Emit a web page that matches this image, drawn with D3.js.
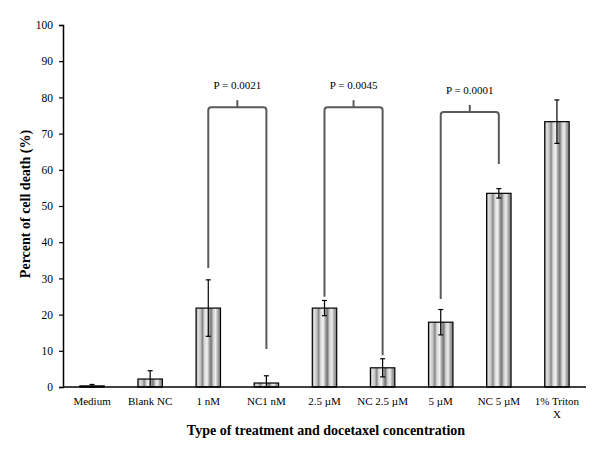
<!DOCTYPE html>
<html><head><meta charset="utf-8">
<script src="https://cdn.jsdelivr.net/npm/d3@7"></script>
<style>body{margin:0;background:#fff}svg{display:block}text{font-family:"Liberation Serif","Times New Roman",serif}</style>
</head><body><svg id="c" width="600" height="450"></svg>
<script>
const categories = ["Medium","Blank NC","1 nM","NC1 nM","2.5 \u00b5M","NC 2.5 \u00b5M","5 \u00b5M","NC 5 \u00b5M","1% Triton X"];
const values = [0.3, 2.2, 21.8, 1.1, 21.8, 5.3, 17.9, 53.5, 73.3];
const errors = [0.4, 2.3, 7.8, 2.0, 2.1, 2.5, 3.5, 1.3, 6.0];
const yTicks = [0,10,20,30,40,50,60,70,80,90,100];
const bracketPairs = [[2,3],[4,5],[6,7]];
const bracketLabels = ["P = 0.0021","P = 0.0045","P = 0.0001"];
const bracketLevels = [77.3, 77.3, 76.0];
const bracketLeftEnds = [32.9, 24.9, 24.3];
const bracketRightEnds = [10.5, 8.8, 61.6];

const svg = d3.select("#c");
const x = d3.scaleBand().domain(categories).range([63,586]);
const y = d3.scaleLinear().domain([0,100]).range([387,25]);
const cx = c => x(c) + x.bandwidth()/2;
const bw = x.bandwidth()*0.42;

// gradient for striped bars
const defs = svg.append("defs");
const g = defs.append("linearGradient").attr("id","stripe").attr("x1","0").attr("x2","1").attr("y1","0").attr("y2","0");
const stops = [[0,"#959595"],[0.08,"#e0e0e0"],[0.18,"#c4c4c4"],[0.26,"#858585"],[0.34,"#d8d8d8"],[0.45,"#f2f2f2"],[0.55,"#9c9c9c"],[0.62,"#767676"],[0.7,"#cccccc"],[0.8,"#eeeeee"],[0.9,"#a4a4a4"],[1,"#858585"]];
stops.forEach(s=>g.append("stop").attr("offset",s[0]).attr("stop-color",s[1]));

// y axis
const yAxis = d3.axisLeft(y).tickValues(yTicks).tickSize(4).tickPadding(6);
const ya = svg.append("g").attr("transform","translate(63,0)").call(yAxis);
ya.select(".domain").attr("stroke","#000").attr("stroke-width",1.5);
ya.selectAll(".tick line").attr("stroke","#000").attr("stroke-width",1.2);
ya.selectAll(".tick text").attr("font-size",11.5).attr("fill","#000").style("font-family","Liberation Serif");

// bars
const data = categories.map((c,i)=>({c, v:values[i], e:errors[i]}));
svg.append("g").selectAll("rect").data(data).join("rect")
  .attr("x", d=>cx(d.c)-bw/2).attr("width", bw)
  .attr("y", d=>y(d.v)).attr("height", d=>y(0)-y(d.v))
  .attr("fill","url(#stripe)").attr("stroke","#000").attr("stroke-width",1.2);

// error bars
const eg = svg.append("g").attr("stroke","#000").attr("stroke-width",1.2);
data.forEach(d=>{
  const X = cx(d.c);
  eg.append("line").attr("x1",X).attr("x2",X).attr("y1",y(d.v+d.e)).attr("y2",y(Math.max(0,d.v-d.e)));
  eg.append("line").attr("x1",X-2.5).attr("x2",X+2.5).attr("y1",y(d.v+d.e)).attr("y2",y(d.v+d.e));
  eg.append("line").attr("x1",X-2.5).attr("x2",X+2.5).attr("y1",y(Math.max(0,d.v-d.e))).attr("y2",y(Math.max(0,d.v-d.e)));
});

// x axis line
svg.append("line").attr("x1",63).attr("x2",586).attr("y1",y(0)).attr("y2",y(0)).attr("stroke","#000").attr("stroke-width",1.5);

// x tick labels
svg.append("g").selectAll("text").data(categories).join("text")
  .attr("x", d=>cx(d)).attr("y",405).attr("text-anchor","middle").attr("font-size",11).attr("fill","#000")
  .each(function(d){
    const t = d3.select(this);
    if (d === "1% Triton X") {
      t.append("tspan").attr("x",cx(d)).attr("dy",0).text("1% Triton");
      t.append("tspan").attr("x",cx(d)).attr("dy",13).text("X");
    } else t.text(d);
  });

// brackets
const bg = svg.append("g").attr("fill","none").attr("stroke","#5a5a5a").attr("stroke-width",2);
bracketPairs.forEach((p,i)=>{
  const xl = cx(categories[p[0]]), xr = cx(categories[p[1]]);
  const yh = y(bracketLevels[i]);
  const xm = (xl+xr)/2;
  const r = 3;
  const path = d3.path();
  path.moveTo(xl, y(bracketLeftEnds[i]));
  path.lineTo(xl, yh+r);
  path.quadraticCurveTo(xl, yh, xl+r, yh);
  path.lineTo(xr-r, yh);
  path.quadraticCurveTo(xr, yh, xr, yh+r);
  path.lineTo(xr, y(bracketRightEnds[i]));
  bg.append("path").attr("d", path.toString());
  bg.append("line").attr("x1",xm).attr("x2",xm).attr("y1",yh).attr("y2",yh-7);
  svg.append("text").attr("x",xm).attr("y",yh-18).attr("text-anchor","middle").attr("font-size",11).attr("fill","#000").text(bracketLabels[i]);
});

// axis titles
svg.append("text").attr("transform","translate(30,204) rotate(-90)").attr("text-anchor","middle")
  .attr("font-size",14).attr("font-weight","bold").attr("fill","#000").text("Percent of cell death (%)");
svg.append("text").attr("x",326).attr("y",435).attr("text-anchor","middle")
  .attr("font-size",14).attr("font-weight","bold").attr("fill","#000").text("Type of treatment and docetaxel concentration");
</script></body></html>
